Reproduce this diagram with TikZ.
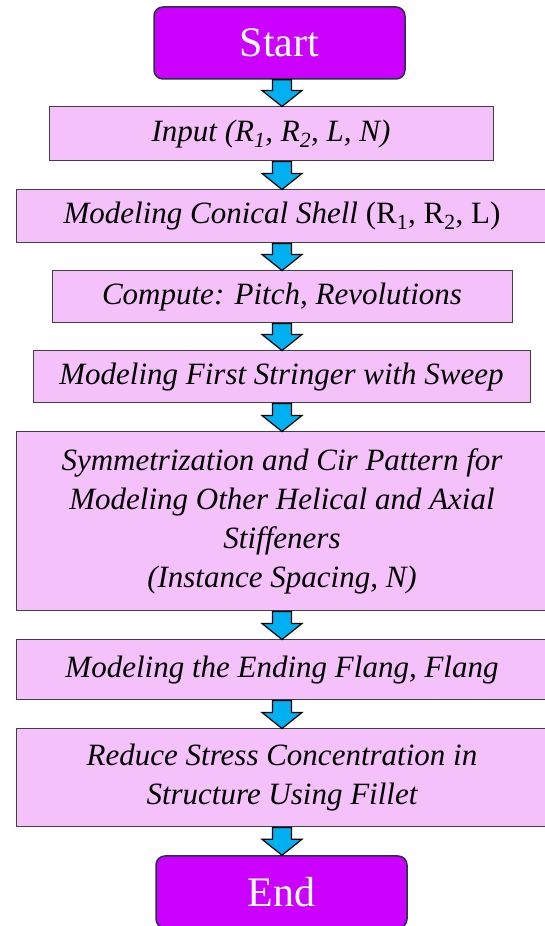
\documentclass[tikz,border=0pt]{standalone}
\usepackage{fontspec}
\setmainfont{Liberation Serif}
\usetikzlibrary{calc}

\definecolor{termpurple}{RGB}{204,0,255}
\definecolor{termedge}{RGB}{35,52,72}
\definecolor{steppink}{RGB}{245,193,250}
\definecolor{arrowblue}{RGB}{0,176,240}

\begin{document}
\begin{tikzpicture}[x=1pt,y=1pt,
  termbox/.style={draw=termedge, line width=1.5pt, fill=termpurple, rounded corners=9pt,
    minimum width=251pt, minimum height=72pt, inner sep=0pt, text=white,
    font=\fontsize{42}{48}\selectfont},
  stepbox/.style={draw=black!75, line width=1pt, fill=steppink, inner sep=0pt, align=center,
    font=\fontsize{31}{39}\selectfont\itshape},
  flowarrow/.style={draw=black, line width=1.2pt, fill=arrowblue, line join=miter}]

\useasboundingbox (0,0) rectangle (545,926);
\clip (0,0) rectangle (545,926);

\coordinate (axis) at (282,0);

\node[termbox] (start) at (279.5,883) {Start};
\node[stepbox, minimum width=444pt, minimum height=54pt] (input) at (271,792)
  {Input (R\textsubscript{1}, R\textsubscript{2}, L, N)};
\node[stepbox, minimum width=532pt, minimum height=53pt] (conic) at (282,709.5)
  {Modeling Conical Shell \upshape(R\textsubscript{1}, R\textsubscript{2}, L)};
\node[stepbox, minimum width=460pt, minimum height=52pt] (pitch) at (282,629)
  {Compute: Pitch, Revolutions};
\node[stepbox, minimum width=497pt, minimum height=52pt] (stringer) at (281.5,549)
  {Modeling First Stringer with Sweep};
\node[stepbox, minimum width=532pt, minimum height=179pt] (pattern) at (282,404.5)
  {Symmetrization and Cir Pattern for\\Modeling Other Helical and Axial\\Stiffeners\\(Instance Spacing, N)};
\node[stepbox, minimum width=532pt, minimum height=60pt] (flang) at (282,256)
  {Modeling the Ending Flang, Flang};
\node[stepbox, minimum width=532pt, minimum height=98pt] (fillet) at (282,148)
  {Reduce Stress Concentration in\\Structure Using Fillet};
\node[termbox] (end) at (281.5,34) {End};

% block arrows between the steps
\foreach \a/\b in {start/input,input/conic,conic/pitch,pitch/stringer,stringer/pattern,pattern/flang,flang/fillet,fillet/end}
  \draw[flowarrow] ($(\a.south -| axis)+(-9.5,0)$) -- ($(\b.north -| axis)+(-9.5,16)$) -- ++(-10.5,0)
    -- (\b.north -| axis) -- ++(20,16) -- ++(-10.5,0) -- ($(\a.south -| axis)+(9.5,0)$) -- cycle;

\end{tikzpicture}
\end{document}
